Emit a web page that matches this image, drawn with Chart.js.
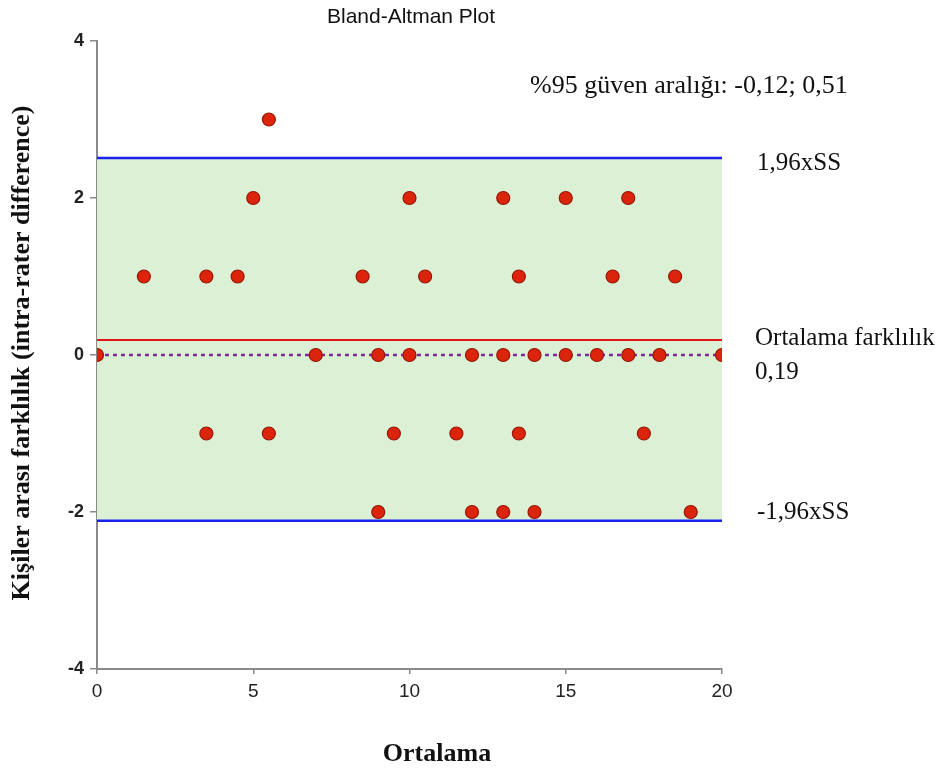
<!DOCTYPE html>
<html>
<head>
<meta charset="utf-8">
<script src="https://cdn.jsdelivr.net/npm/chart.js@4.4.0/dist/chart.umd.min.js"></script>
<style>
html,body{margin:0;padding:0;background:#fff;}
#wrap{width:946px;height:771px;position:relative;}
</style>
</head>
<body>
<div id="wrap"><canvas id="c" width="946" height="771"></canvas></div>
<script>
// Data
const meanValues = [5.5, 5, 10, 13, 15, 17, 1.5, 3.5, 4.5, 8.5, 10.5, 13.5, 16.5, 18.5, 0, 7, 9, 10, 12, 13, 14, 15, 16, 17, 18, 20, 3.5, 5.5, 9.5, 11.5, 13.5, 17.5, 9, 12, 13, 14, 19];
const diffValues = [3, 2, 2, 2, 2, 2, 1, 1, 1, 1, 1, 1, 1, 1, 0, 0, 0, 0, 0, 0, 0, 0, 0, 0, 0, 0, -1, -1, -1, -1, -1, -1, -2, -2, -2, -2, -2];
const meanDifference = 0.19;
const upperLimit = 2.51;
const lowerLimit = -2.11;
const zeroLine = 0;
const xRange = [0, 20];
const yRange = [-4, 4];
const xTicks = [0, 5, 10, 15, 20];
const yTicks = [-4, -2, 0, 2, 4];

const titleText = 'Bland-Altman Plot';
const ciText = '%95 güven aralığı: -0,12; 0,51';
const upperLabel = '1,96xSS';
const lowerLabel = '-1,96xSS';
const meanLabel1 = 'Ortalama farklılık';
const meanLabel2 = '0,19';
const xTitle = 'Ortalama';
const yTitle = 'Kişiler arası farklılık (intra-rater difference)';

const points = meanValues.map((m, i) => ({x: m, y: diffValues[i]}));
const hline = v => xRange.map(x => ({x: x, y: v}));

const serif = '"Liberation Serif", "Times New Roman", serif';
const sans = '"Liberation Sans", Arial, sans-serif';

const textPlugin = {
  id: 'texts',
  afterDraw(chart) {
    const ctx = chart.ctx;
    const ys = chart.scales.y;
    ctx.save();
    ctx.fillStyle = '#111';
    ctx.textBaseline = 'middle';
    ctx.textAlign = 'center';
    ctx.font = '21px ' + sans;
    ctx.fillText(titleText, 411, 17);
    ctx.textAlign = 'left';
    ctx.font = '26px ' + serif;
    ctx.fillText(ciText, 530, 86);
    ctx.font = '25px ' + serif;
    ctx.fillText(upperLabel, 757, ys.getPixelForValue(upperLimit) + 5);
    ctx.fillText(meanLabel1, 755, ys.getPixelForValue(meanDifference) - 2);
    ctx.fillText(meanLabel2, 755, ys.getPixelForValue(meanDifference) + 32);
    ctx.fillText(lowerLabel, 757, ys.getPixelForValue(lowerLimit) - 8);
    ctx.font = 'bold 26px ' + serif;
    ctx.textAlign = 'center';
    ctx.fillText(xTitle, 437, 754);
    ctx.translate(22, 353);
    ctx.rotate(-Math.PI / 2);
    ctx.font = 'bold 26px ' + serif;
    ctx.fillText(yTitle, 0, 0);
    ctx.restore();
  }
};

new Chart(document.getElementById('c'), {
  type: 'scatter',
  data: {
    datasets: [
      {
        label: 'points',
        data: points,
        backgroundColor: '#dc240c',
        borderColor: '#951806',
        borderWidth: 1.2,
        pointRadius: 6.5,
        pointHoverRadius: 6.5,
        order: 0
      },
      {
        label: 'band',
        type: 'line',
        data: hline(upperLimit),
        borderColor: '#1a22f0',
        borderWidth: 2.5,
        pointRadius: 0,
        fill: {value: lowerLimit},
        backgroundColor: '#dcf0d5',
        order: 5
      },
      {
        label: 'lower',
        type: 'line',
        data: hline(lowerLimit),
        borderColor: '#1a22f0',
        borderWidth: 2.5,
        pointRadius: 0,
        fill: false,
        order: 4
      },
      {
        label: 'mean',
        type: 'line',
        data: hline(meanDifference),
        borderColor: '#e01515',
        borderWidth: 2,
        pointRadius: 0,
        fill: false,
        order: 3
      },
      {
        label: 'zero',
        type: 'line',
        data: hline(zeroLine),
        borderColor: '#7a2a9a',
        borderWidth: 2.5,
        borderDash: [4, 4],
        pointRadius: 0,
        fill: false,
        order: 2
      }
    ]
  },
  options: {
    responsive: false,
    animation: false,
    layout: {padding: {left: 0, right: 224, top: 41, bottom: 0}},
    plugins: {
      legend: {display: false},
      tooltip: {enabled: false},
      title: {display: false}
    },
    scales: {
      x: {
        type: 'linear',
        min: xRange[0],
        max: xRange[1],
        afterFit(s) { s.height = 102; },
        afterBuildTicks(s) { s.ticks = xTicks.map(v => ({value: v})); },
        border: {display: true, color: '#8a8a8a', width: 2},
        grid: {drawOnChartArea: false, drawTicks: true, tickLength: 5, color: '#8a8a8a', lineWidth: 1.5},
        ticks: {color: '#222', font: {family: sans, size: 19}, padding: 6}
      },
      y: {
        type: 'linear',
        min: yRange[0],
        max: yRange[1],
        afterFit(s) { s.width = 97; },
        afterBuildTicks(s) { s.ticks = yTicks.map(v => ({value: v})); },
        border: {display: true, color: '#8a8a8a', width: 2},
        grid: {drawOnChartArea: false, drawTicks: true, tickLength: 7, color: '#8a8a8a', lineWidth: 1.5},
        ticks: {color: '#222', font: {family: sans, size: 18, weight: 'bold'}, padding: 6}
      }
    }
  },
  plugins: [textPlugin]
});
</script>
</body>
</html>
